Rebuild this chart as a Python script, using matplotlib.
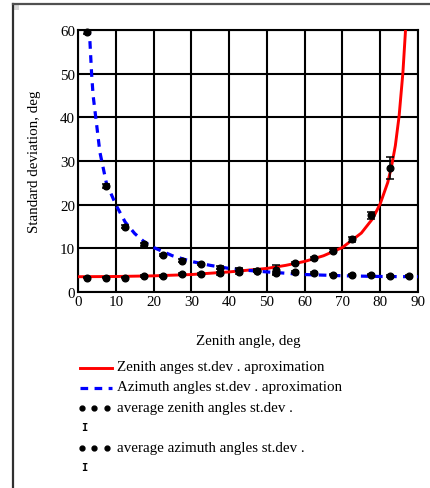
import matplotlib
matplotlib.use("Agg")
import matplotlib.pyplot as plt
from matplotlib.lines import Line2D
from matplotlib.patches import Rectangle

# ---- data ----
zen_curve_x = [0, 10, 20, 30, 40, 50, 55, 60, 65, 70, 75, 78, 80, 82, 83, 84, 85, 86, 86.7, 87.2]
zen_curve_y = [3.5, 3.55, 3.7, 4.0, 4.6, 5.4, 6.1, 7.0, 8.3, 10.2, 13.5, 16.8, 20.2, 25.1, 28.8, 33.5, 40.3, 50.2, 60.0, 70.0]

azi_curve_x = [2.7, 3.0, 3.6, 4.0, 4.7, 5.8, 7.5, 10, 12.5, 15, 17.5, 20, 25, 30, 35, 40, 45, 50, 60, 70, 80, 90]
azi_curve_y = [70.0, 60.0, 50.0, 45.0, 40.0, 32.0, 25.0, 20.0, 16.0, 13.4, 11.5, 10.2, 8.3, 7.0, 6.1, 5.4, 4.95, 4.6, 4.0, 3.72, 3.55, 3.5]

pts_x = [2.5, 7.5, 12.5, 17.5, 22.5, 27.5, 32.5, 37.5, 42.5, 47.5, 52.5, 57.5, 62.5, 67.5, 72.5, 77.5, 82.5, 87.5]

zen_avg = [3.3, 3.3, 3.3, 3.7, 3.7, 4.1, 4.1, 4.3, 4.5, 4.9, 5.0, 6.6, 7.7, 9.5, 12.1, 17.6, 28.4, None]
zen_err = [0.2, 0.2, 0.2, 0.2, 0.2, 0.2, 0.2, 0.3, 0.3, 0.3, 1.2, 0.3, 0.3, 0.4, 0.6, 0.8, 2.5, None]

azi_avg = [59.5, 24.3, 15.0, 10.9, 8.5, 7.2, 6.4, 5.6, 5.1, 4.9, 4.3, 4.5, 4.4, 4.0, 4.0, 4.0, 3.7, 3.7]
azi_err = [0.5, 0.5, 0.4, 0.3, 0.3, 0.3, 0.3, 0.3, 0.3, 0.2, 0.2, 0.2, 0.2, 0.2, 0.2, 0.2, 0.2, 0.2]

x_ticks = [0, 10, 20, 30, 40, 50, 60, 70, 80, 90]
y_ticks = [0, 10, 20, 30, 40, 50, 60]

legend_labels = ["Zenith anges st.dev . aproximation",
                 "Azimuth angles st.dev . aproximation",
                 "average zenith angles st.dev .",
                 "average azimuth angles st.dev ."]

# ---- figure ----
W, H = 431, 489
DPI = 100
FS = 10.8
plt.rcParams['font.family'] = ['Liberation Serif', 'DejaVu Serif']
fig = plt.figure(figsize=(W / DPI, H / DPI), dpi=DPI)
fig.patch.set_facecolor('white')

def px(x, y):
    return x / W, 1 - y / H

ax = fig.add_axes([78 / W, 1 - 293 / H, (418 - 78) / W, (293 - 31) / H])
ax.set_xlim(0, 90)
ax.set_ylim(0, 60)
ax.set_xticks(x_ticks)
ax.set_yticks(y_ticks)
ax.tick_params(length=0, labelsize=FS, pad=2)
ax.grid(True, color='black', linewidth=1.5)
ax.set_axisbelow(True)
for s in ax.spines.values():
    s.set_linewidth(1.5)
    s.set_color('black')

ax.plot(zen_curve_x, zen_curve_y, color='#ff0000', lw=2.1, zorder=3)
ax.plot(azi_curve_x, azi_curve_y, color='#0000ff', lw=2.3, dashes=(2.4, 2.0), zorder=3)

zx = [x for x, v in zip(pts_x, zen_avg) if v is not None]
zy = [v for v in zen_avg if v is not None]
ze = [e for e in zen_err if e is not None]
ax.errorbar(zx, zy, yerr=ze, fmt='o', color='black', ms=4.8, capsize=2.8,
            elinewidth=1.1, capthick=1.1, zorder=4, clip_on=False)
ax.errorbar(pts_x, azi_avg, yerr=azi_err, fmt='o', color='black', ms=4.8, capsize=2.8,
            elinewidth=1.1, capthick=1.1, zorder=4, clip_on=False)

fig.text(*px(35, 162), "Standard deviation, deg", fontsize=FS, rotation=90,
         ha='center', va='center')
fig.text(*px(248, 341), "Zenith angle, deg", fontsize=FS, ha='center', va='center')

# ---- legend drawn by hand ----
rows_y = [368, 388, 409, 428, 449, 468]
tr = fig.transFigure
fig.add_artist(Line2D([80 / W, 112 / W], [1 - 369 / H] * 2, color='#ff0000', lw=2.1, transform=tr))
fig.add_artist(Line2D([80 / W, 112 / W], [1 - 389 / H] * 2, color='#0000ff', lw=2.3,
                      dashes=(2.4, 2.0), transform=tr))
for ry in (409, 449):
    fig.add_artist(Line2D([82 / W, 94.5 / W, 107 / W], [1 - ry / H] * 3, color='black', ls='none',
                          marker='o', ms=3.5, transform=tr))
for ry in (428, 468):
    fig.text(*px(84, ry), "I", fontsize=7.5, fontweight='bold', ha='center', va='center',
             family='DejaVu Sans Mono')
for lab, ry in zip(legend_labels, [rows_y[0], rows_y[1], rows_y[2], rows_y[4]]):
    fig.text(*px(117, ry), lab, fontsize=FS, ha='left', va='center')

# ---- outer frame ----
fig.add_artist(Line2D([13 / W, 13 / W], [0, 1 - 5 / H], color='#303030', lw=1.6, transform=tr))
fig.add_artist(Line2D([13 / W, 1], [1 - 5 / H, 1 - 5 / H], color='#505050', lw=1.6, transform=tr))
fig.add_artist(Rectangle((14 / W, 1 - 11 / H), 5 / W, 5 / H, color='#d8d8d8', transform=tr, lw=0))

fig.savefig("out.png", dpi=DPI)
